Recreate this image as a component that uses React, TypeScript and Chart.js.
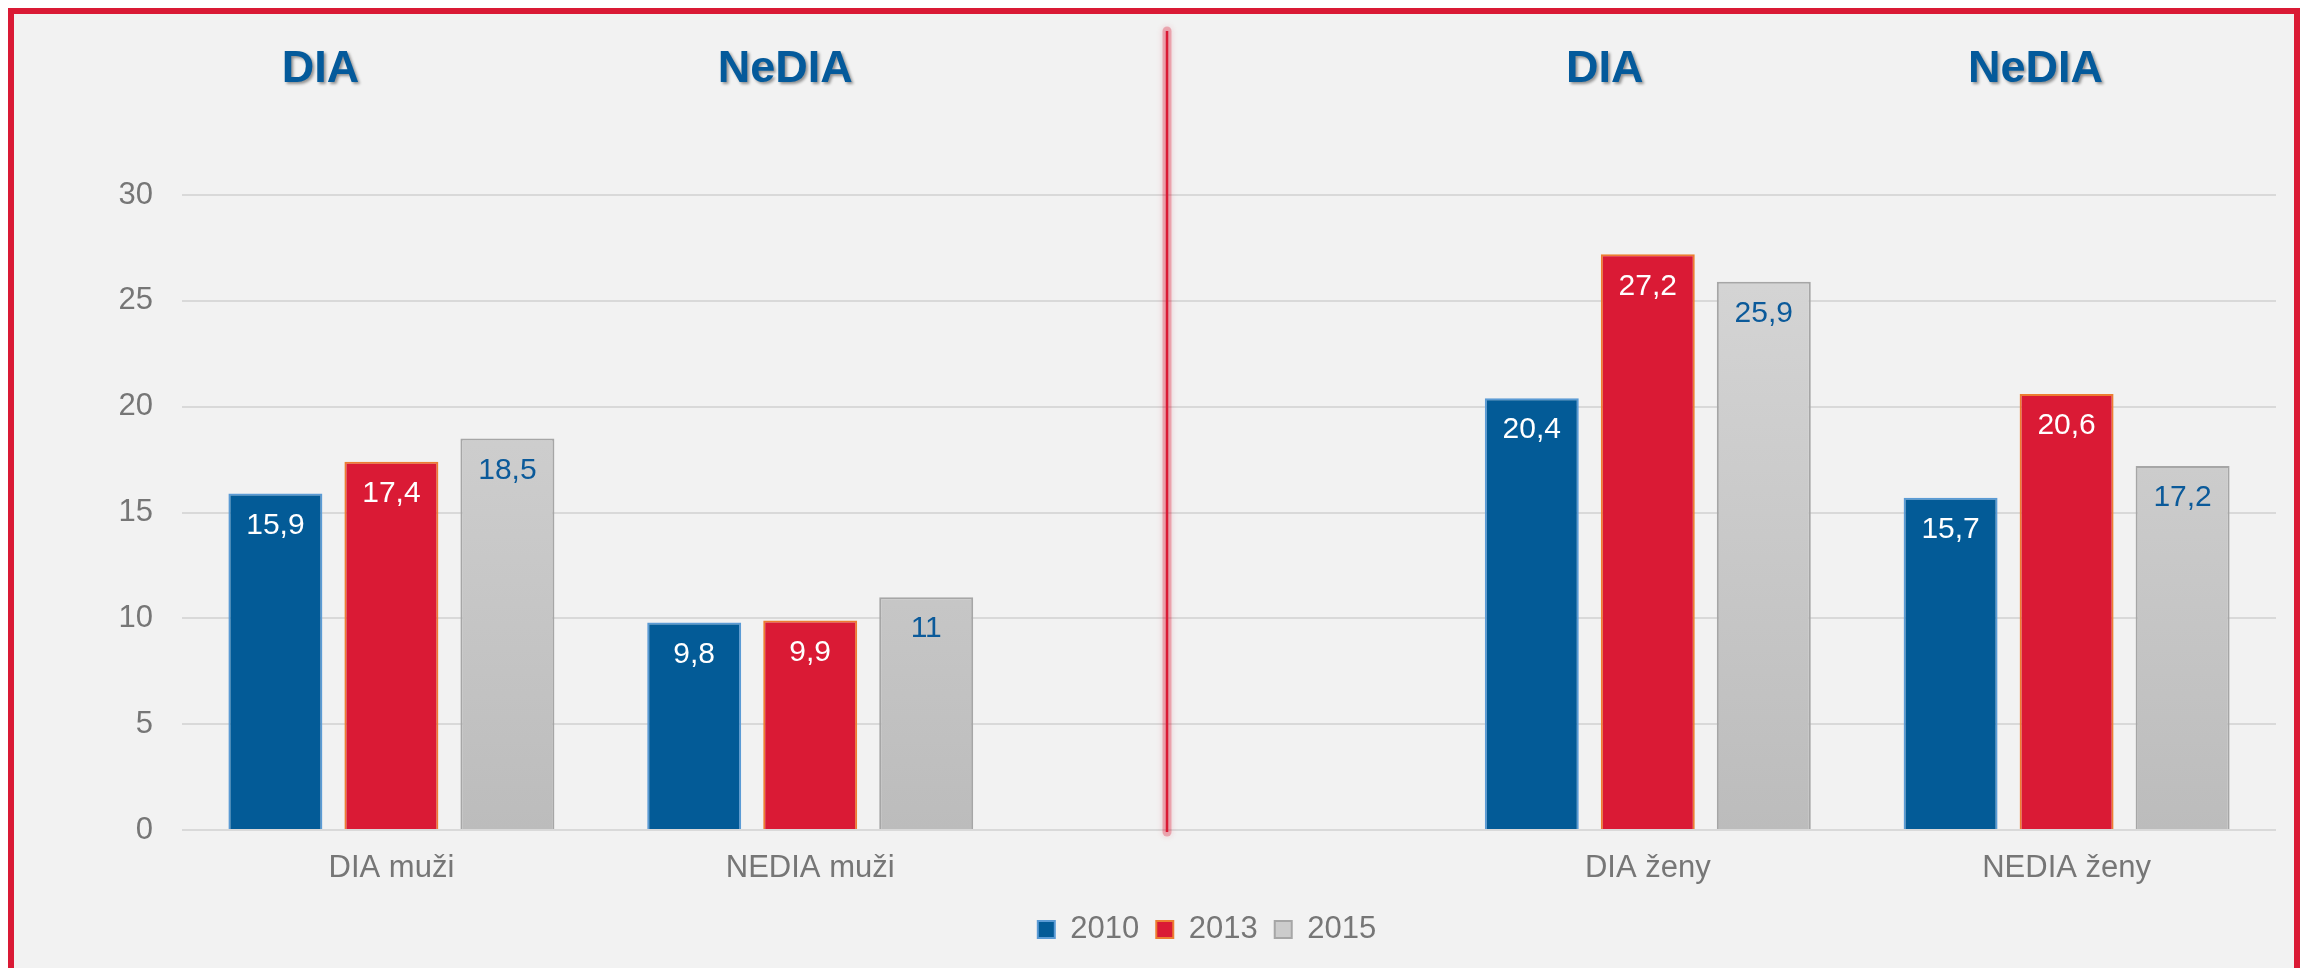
import React, { useEffect, useRef } from "react";
import { Chart, registerables } from "chart.js";

Chart.register(...registerables);

// ---- data ----
const categories = ["DIA muži", "NEDIA muži", "", "DIA ženy", "NEDIA ženy"];
const seriesNames = ["2010", "2013", "2015"];
const values2010 = [15.9, 9.8, null, 20.4, 15.7];
const values2013 = [17.4, 9.9, null, 27.2, 20.6];
const values2015 = [18.5, 11, null, 25.9, 17.2];
const yMin = 0;
const yMax = 30;
const yStep = 5;
const groupTitles = ["DIA", "NeDIA", "DIA", "NeDIA"];
const groupTitleCategory = [0, 1, 3, 4];

const FONT = "'Liberation Sans', Arial, Helvetica, sans-serif";

export default function App() {
  const ref = useRef<HTMLCanvasElement>(null);

  useEffect(() => {
    const canvas = ref.current;
    if (!canvas) return;

    const grayFill = (c: any) => {
      const chart = c.chart;
      const a = chart.chartArea;
      if (!a) return "#c9c9c9";
      const g = chart.ctx.createLinearGradient(0, a.top, 0, a.bottom);
      g.addColorStop(0, "#d8d8d8");
      g.addColorStop(1, "#bcbcbc");
      return g;
    };

    const labelColors = ["#ffffff", "#ffffff", "#0b5a9a"];
    const titleOffsets = [-71, -25, -43, -31];

    const legendShiftPlugin = {
      id: "legendShift",
      afterLayout(chart: any) {
        const lg = chart.legend;
        if (lg) lg.left += 124;
      },
    };

    const dividerPlugin = {
      id: "divider",
      afterDatasetsDraw(chart: any) {
        const { ctx, chartArea: a } = chart;
        const x = a.left + 0.4704 * (a.right - a.left);
        ctx.save();
        ctx.lineCap = "round";
        ctx.strokeStyle = "rgba(218,26,53,0.30)";
        ctx.shadowColor = "rgba(218,26,53,0.55)";
        ctx.shadowBlur = 6;
        ctx.lineWidth = 9;
        ctx.beginPath();
        ctx.moveTo(x, 17);
        ctx.lineTo(x, a.bottom + 2);
        ctx.stroke();
        ctx.shadowBlur = 0;
        ctx.shadowColor = "transparent";
        ctx.lineCap = "butt";
        ctx.strokeStyle = "#DA1A35";
        ctx.lineWidth = 2.5;
        ctx.beginPath();
        ctx.moveTo(x, 17);
        ctx.lineTo(x, a.bottom + 2);
        ctx.stroke();
        ctx.restore();
      },
    };

    const valueLabelPlugin = {
      id: "valueLabels",
      afterDatasetsDraw(chart: any) {
        const { ctx } = chart;
        ctx.save();
        ctx.font = `30px ${FONT}`;
        ctx.textAlign = "center";
        ctx.textBaseline = "middle";
        chart.data.datasets.forEach((ds: any, di: number) => {
          const meta = chart.getDatasetMeta(di);
          meta.data.forEach((el: any, i: number) => {
            const v = ds.data[i];
            if (v === null || v === undefined) return;
            ctx.fillStyle = labelColors[di];
            ctx.fillText(String(v).replace(".", ","), el.x, el.y + 32);
          });
        });
        ctx.restore();
      },
    };

    const titlePlugin = {
      id: "groupTitles",
      afterDraw(chart: any) {
        const { ctx } = chart;
        const xs = chart.scales.x;
        ctx.save();
        ctx.font = `bold 45px ${FONT}`;
        ctx.textAlign = "center";
        ctx.textBaseline = "middle";
        ctx.fillStyle = "#045a9b";
        ctx.shadowColor = "rgba(0,0,0,0.40)";
        ctx.shadowOffsetX = 2;
        ctx.shadowOffsetY = 2;
        ctx.shadowBlur = 3;
        groupTitles.forEach((t, i) => {
          const x = xs.getPixelForValue(groupTitleCategory[i]) + titleOffsets[i];
          ctx.fillText(t, x, 56);
        });
        ctx.restore();
      },
    };

    const chart = new Chart(canvas, {
      type: "bar",
      data: {
        labels: categories,
        datasets: [
          {
            label: seriesNames[0],
            data: values2010,
            backgroundColor: "#035b97",
            borderColor: "#5b9bd5",
            borderWidth: 2,
          },
          {
            label: seriesNames[1],
            data: values2013,
            backgroundColor: "#da1a35",
            borderColor: "#ed7d31",
            borderWidth: 2,
          },
          {
            label: seriesNames[2],
            data: values2015,
            backgroundColor: grayFill,
            borderColor: "#a6a6a6",
            borderWidth: 2,
          },
        ],
      },
      options: {
        responsive: false,
        animation: false,
        categoryPercentage: 0.831,
        barPercentage: 0.81,
        layout: { padding: { left: 0, right: 0, top: 181, bottom: 13 } },
        plugins: {
          tooltip: { enabled: false },
          legend: {
            position: "bottom",
            labels: {
              boxWidth: 17,
              boxHeight: 17,
              padding: 17,
              color: "#767676",
              font: { family: FONT, size: 31 },
              generateLabels(ch: any) {
                const items = (Chart.defaults.plugins.legend.labels as any).generateLabels(ch);
                const fills = ["#035b97", "#da1a35", "#cccccc"];
                items.forEach((it: any, i: number) => {
                  it.fillStyle = fills[i];
                  it.lineWidth = 2;
                });
                return items;
              },
            },
          },
        },
        scales: {
          x: {
            grid: { display: false, drawTicks: false },
            border: { display: false },
            ticks: {
              color: "#767676",
              font: { family: FONT, size: 31 },
              padding: 20,
              maxRotation: 0,
              autoSkip: false,
            },
            afterFit(s: any) {
              s.height = 67;
            },
          },
          y: {
            min: yMin,
            max: yMax,
            grid: { color: "#d9d9d9", lineWidth: 2, drawTicks: false },
            border: { display: false },
            ticks: {
              stepSize: yStep,
              color: "#767676",
              font: { family: FONT, size: 31 },
              padding: 29,
            },
            afterFit(s: any) {
              s.width = 168;
            },
          },
        },
      },
      plugins: [legendShiftPlugin, dividerPlugin, valueLabelPlugin, titlePlugin],
    } as any);

    return () => chart.destroy();
  }, []);

  return (
    <div
      style={{
        position: "fixed",
        left: 8,
        top: 8,
        width: 2292,
        height: 1000,
        boxSizing: "border-box",
        borderTop: "6px solid #DA1A35",
        borderLeft: "6px solid #DA1A35",
        borderRight: "6px solid #DA1A35",
        background: "#F2F2F2",
      }}
    >
      <canvas
        ref={ref}
        width={2262}
        height={954}
        style={{ position: "absolute", left: 0, top: 0, display: "block" }}
      />
    </div>
  );
}
